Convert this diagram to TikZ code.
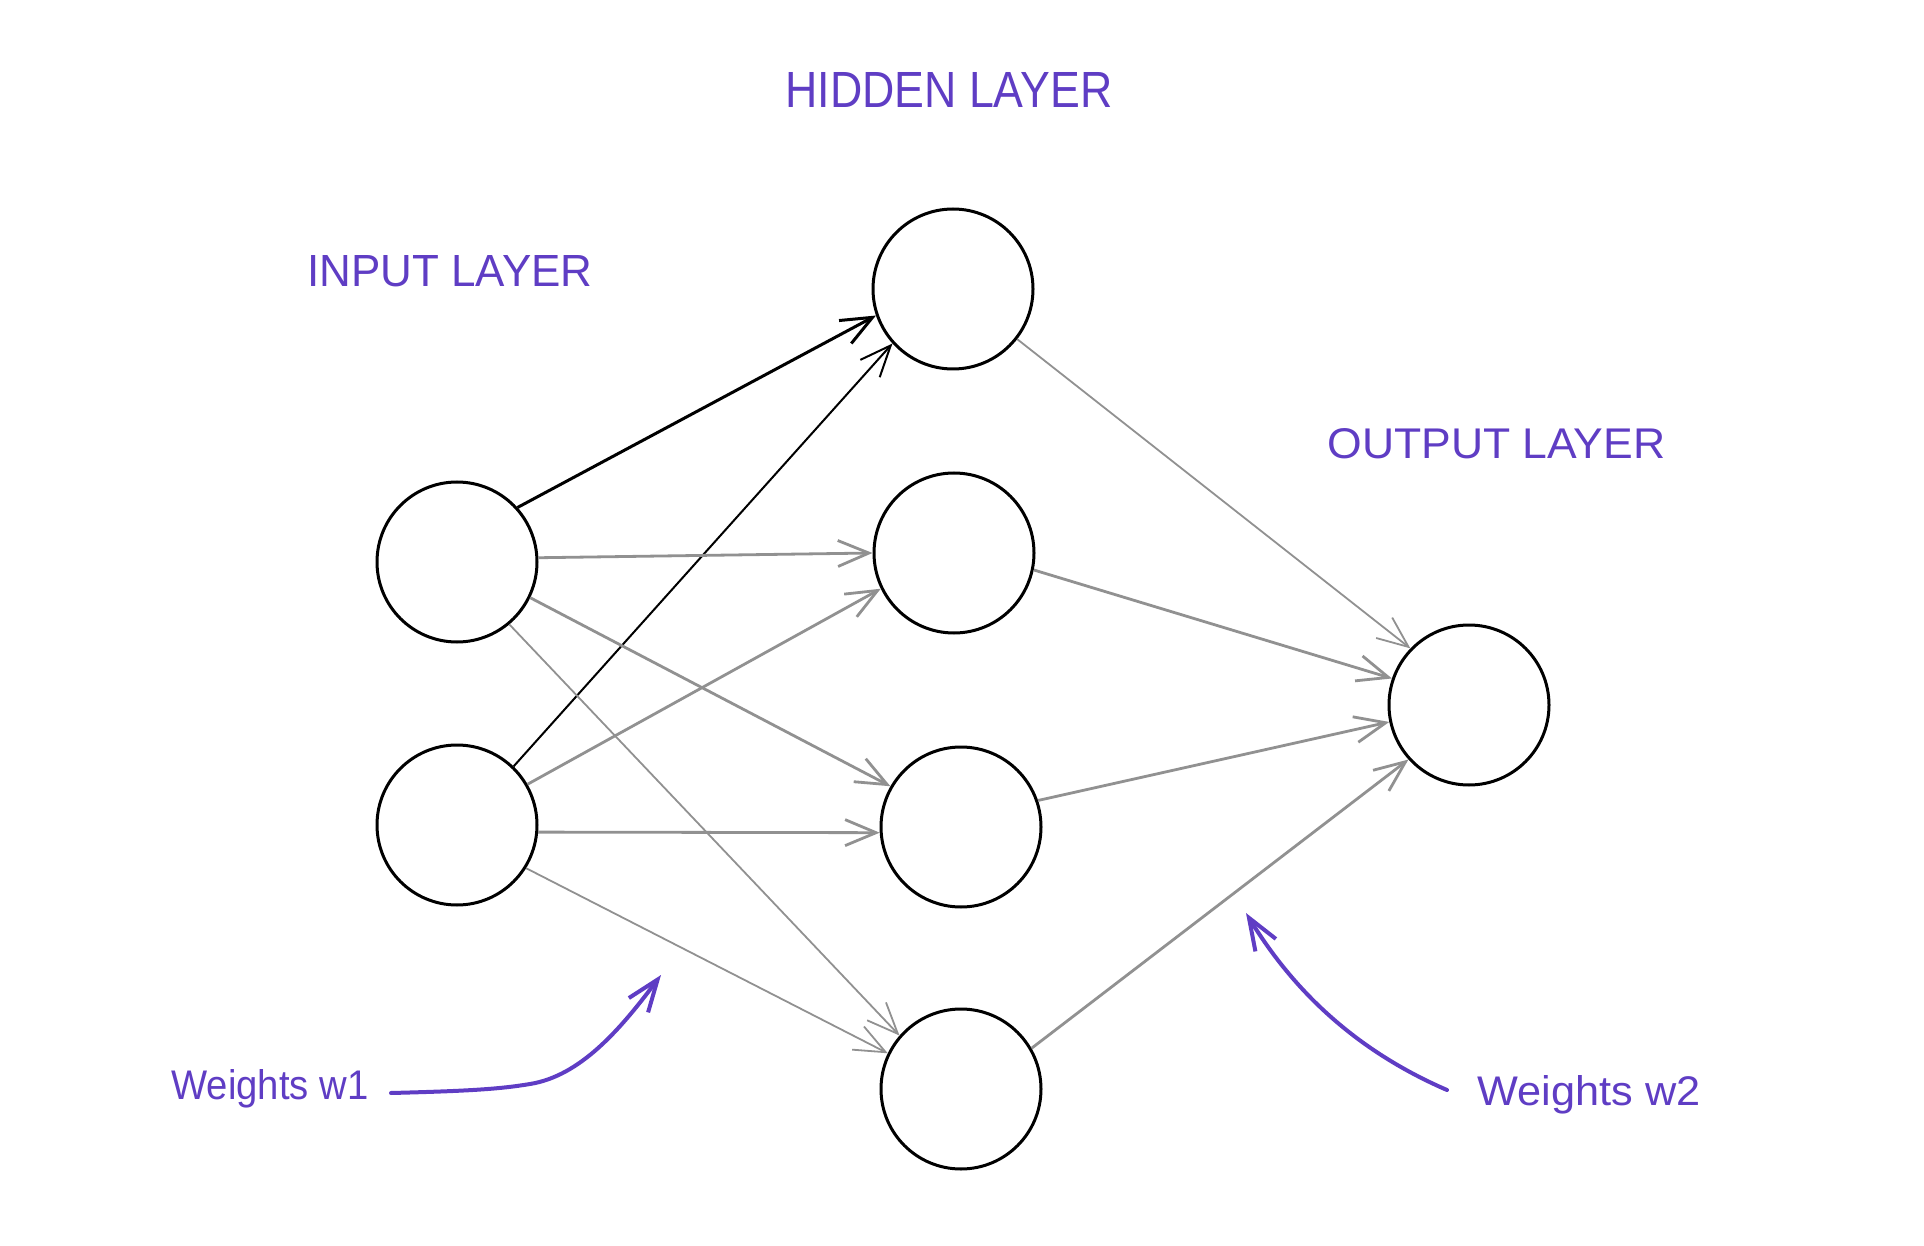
\documentclass[tikz,border=0pt]{standalone}
\usepackage{fontspec}
\setmainfont{Liberation Sans}
\usepackage{graphicx}
\usetikzlibrary{arrows.meta}
\definecolor{violet}{RGB}{95,61,196}
\definecolor{wire}{RGB}{145,145,145}
\tikzset{
  neuron/.style={circle, draw=black, line width=1.5pt, minimum size=80pt, inner sep=0pt, fill=white},
  greyedge/.style={draw=wire, line width=1.4pt, -{Straight Barb[length=15.5pt,width=13pt]}},
  thinedge/.style={draw=wire, line width=0.9pt, -{Straight Barb[length=15.5pt,width=13pt]}},
  blackedge/.style={draw=black, line width=1.5pt, -{Straight Barb[length=15.5pt,width=13pt]}},
  blackthin/.style={draw=black, line width=1.0pt, -{Straight Barb[length=15.5pt,width=13pt]}},
  lbl/.style={inner sep=0pt, text=violet},
  pointer/.style={draw=violet, line width=2pt, line cap=round, -{Straight Barb[length=16pt,width=12pt]}}
}
\begin{document}
\begin{tikzpicture}[x=0.5pt, y=-0.5pt]
\useasboundingbox (0,0) rectangle (1924,1246);
% neurons
\node[neuron] (I1) at (457,562) {};
\node[neuron] (I2) at (457,825) {};
\node[neuron] (H1) at (953,289) {};
\node[neuron] (H2) at (954,553) {};
\node[neuron] (H3) at (961,827) {};
\node[neuron] (H4) at (961,1089) {};
\node[neuron] (O)  at (1469,705) {};
% labels
\node[lbl, anchor=south west] (hid) at (785,108) {\resizebox{163.5pt}{17.5pt}{HIDDEN LAYER}};
\node[lbl, anchor=south west] (inp) at (307,287) {\resizebox{142.5pt}{15.5pt}{INPUT LAYER}};
\node[lbl, anchor=south west] (out) at (1327,459) {\resizebox{169pt}{15pt}{OUTPUT LAYER}};
\node[lbl, anchor=base west] (w1) at (171,1099) {\resizebox{98.5pt}{15pt}{Weights w1}};
\node[lbl, anchor=base west] (w2) at (1477,1105) {\resizebox{111.5pt}{15pt}{Weights w2}};
% connectors input -> hidden
\draw[blackedge] (I1.42) -- (H1.199);
\draw[blackthin] (I2.46) -- (H1.222);
\draw[greyedge] (I1.3) -- (H2.180);
\draw[greyedge] (I1.-26) -- (H3.150);
\draw[thinedge] (I1.-50) -- (H4.139);
\draw[greyedge] (I2.30) -- (H2.206);
\draw[greyedge] (I2.-5) -- (H3.184);
\draw[thinedge] (I2.-32) -- (H4.154);
% hidden -> output
\draw[thinedge] (H1.-38) -- (O.136);
\draw[greyedge] (H2.-12) -- (O.161);
\draw[greyedge] (H3.19) -- (O.192);
\draw[greyedge] (H4.30) -- (O.222);
% pointers
\coordinate (p1s) at (391,1093);
\coordinate (p1e) at (661,975);
\coordinate (p2s) at (1447,1090);
\coordinate (p2e) at (1246,913);
\draw[pointer] (p1s) .. controls (470,1091) and (500,1089) .. (530,1084) .. controls (580,1076) and (620,1030) .. (p1e);
\draw[pointer] (p2s) .. controls (1350,1048) and (1290,985) .. (p2e);
\end{tikzpicture}
\end{document}
